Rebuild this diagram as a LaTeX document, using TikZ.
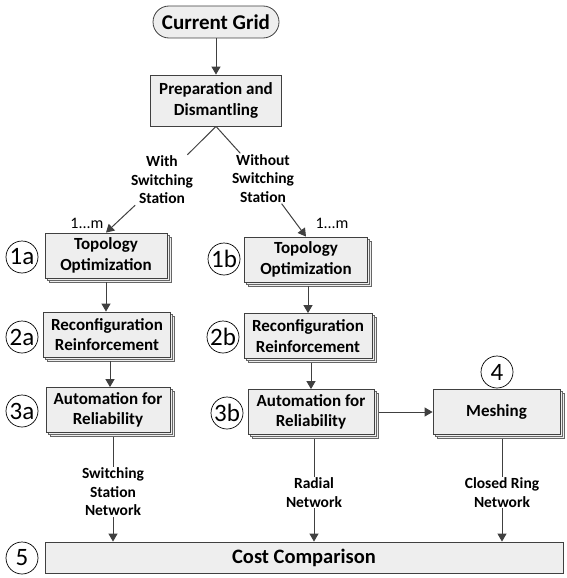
\documentclass[tikz,border=0pt]{standalone}
\usepackage{fontspec}
\setmainfont{Carlito}
\usetikzlibrary{arrows.meta,shadows}
\definecolor{boxfill}{HTML}{EEEEEE}
\definecolor{linec}{HTML}{404040}
\begin{document}
\begin{tikzpicture}[x=1pt,y=-1pt,
  stepbox/.style={draw=linec, line width=0.8pt, fill=boxfill, align=center, inner sep=2pt,
    minimum width=122pt, minimum height=45pt, font=\fontsize{17}{20.5}\selectfont\bfseries},
  stackbox/.style={stepbox,
    copy shadow={shadow xshift=4pt, shadow yshift=-4pt, draw=linec!80, fill=boxfill, line width=0.6pt},
    copy shadow={shadow xshift=2pt, shadow yshift=-2pt, draw=linec!80, fill=boxfill, line width=0.6pt}},
  num/.style={circle, draw=black, line width=0.7pt, fill=white, minimum size=32pt, inner sep=0pt,
    font=\fontsize{25}{25}\selectfont},
  lbl/.style={align=center, inner sep=1pt, font=\fontsize{15.5}{18.5}\selectfont\bfseries},
  mult/.style={inner sep=1pt, font=\fontsize{16}{16}\selectfont},
  conn/.style={draw=linec, line width=1pt},
  arr/.style={conn, -{Triangle[length=8pt,width=9pt]}}
]
\useasboundingbox (0,0) rectangle (566,578);

% main boxes
\node[stepbox, rounded corners=16pt, minimum width=126pt, minimum height=32pt,
  font=\fontsize{21}{21}\selectfont\bfseries] (grid) at (216,22) {Current Grid};
\node[stepbox, minimum width=131pt, minimum height=51pt] (prep) at (216,100.5) {Preparation and\\Dismantling};

\node[lbl] (with) at (162,180) {With\\Switching\\Station};
\node[lbl] (without) at (263,178.5) {Without\\Switching\\Station};

\node[stackbox] (t1a) at (106,255.5) {Topology\\Optimization};
\node[stackbox, minimum width=127pt] (r2a) at (107,334.5) {Reconfiguration\\Reinforcement};
\node[stackbox, minimum width=124pt] (a3a) at (108,410) {Automation for\\Reliability};

\node[stackbox, minimum width=123pt] (t1b) at (306,259.5) {Topology\\Optimization};
\node[stackbox, minimum width=128pt] (r2b) at (308,336) {Reconfiguration\\Reinforcement};
\node[stackbox, minimum width=126pt] (a3b) at (311,412) {Automation for\\Reliability};

\node[stackbox, minimum width=127pt] (mesh) at (496.5,412) {Meshing};

\node[stepbox, minimum width=518pt, minimum height=31pt,
  font=\fontsize{20.5}{20.5}\selectfont\bfseries] (cost) at (304,557.5) {Cost Comparison};

% number circles
\node[num] (n1a) at (22,257) {1a};
\node[num] (n2a) at (22,337) {2a};
\node[num] (n3a) at (22,411) {3a};
\node[num] (n1b) at (224,259) {1b};
\node[num] (n2b) at (223,337) {2b};
\node[num] (n3b) at (227,413) {3b};
\node[num] (n4) at (497,372) {4};
\node[num] (n5) at (22,558) {5};

% multiplicity labels
\node[mult] (m1) at (87,223) {1...m};
\node[mult] (m2) at (332,223) {1...m};

% bottom labels
\node[lbl] (ssn) at (113,492) {Switching\\Station\\Network};
\node[lbl] (rad) at (314,492.5) {Radial\\Network};
\node[lbl] (ring) at (502,492.5) {Closed Ring\\Network};

\coordinate (c2a) at (110,0);

% connectors
\draw[arr] (grid) -- (prep);
\draw[conn] (prep.south) -- (with);
\draw[arr] (with) -- (t1a.north);
\draw[conn] (prep.south) -- (without);
\draw[arr] (without) -- (t1b.north);

\draw[arr, shorten <=4pt] (t1a.south) -- (t1a.south |- r2a.north);
\draw[arr, shorten <=4pt] (r2a.south -| c2a) -- (c2a |- a3a.north);
\draw[arr, shorten <=4pt] (t1b.south -| r2b) -- (r2b.north);
\draw[arr, shorten <=4pt] (r2b.south -| a3b) -- (a3b.north);

\draw[conn, shorten <=4pt] (a3a.south -| ssn) -- (ssn);
\draw[arr] (ssn) -- (ssn |- cost.north);
\draw[conn, shorten <=4pt] (a3b.south -| rad) -- (rad);
\draw[arr] (rad) -- (rad |- cost.north);
\draw[arr, shorten <=5pt] (a3b.east) -- (mesh.west);
\draw[conn, shorten <=4pt] (mesh.south -| ring) -- (ring);
\draw[arr] (ring) -- (ring |- cost.north);
\end{tikzpicture}
\end{document}
